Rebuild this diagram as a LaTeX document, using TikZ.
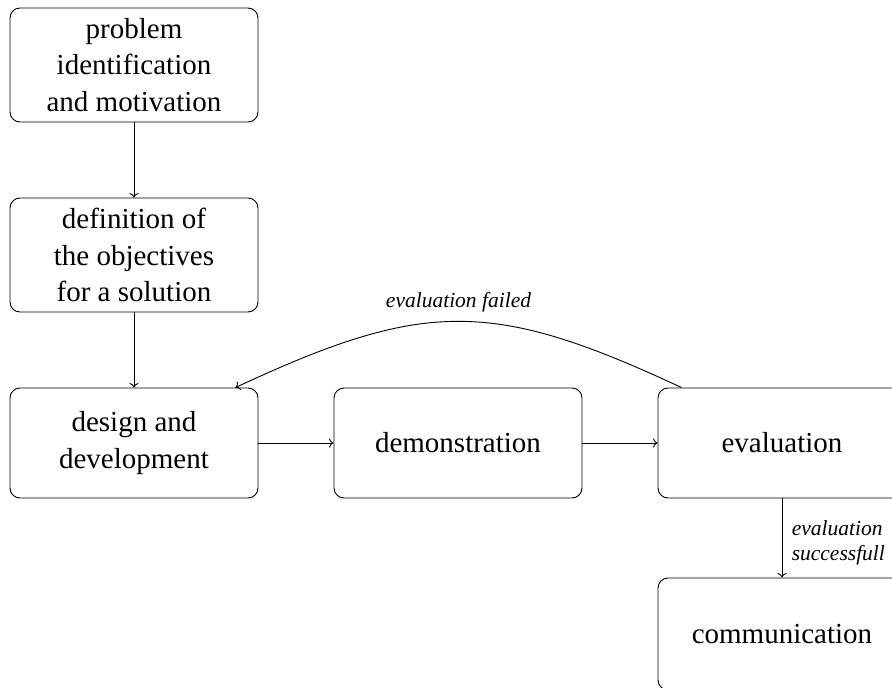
\documentclass[tikz,border=0pt]{standalone}
\usepackage{fontspec}
\setmainfont{Liberation Serif}
\usetikzlibrary{arrows.meta}
\begin{document}
\begin{tikzpicture}[x=1pt,y=1pt,
  stage/.style={draw, line width=0.9pt, rounded corners=10pt, minimum width=248pt, align=center, font=\fontsize{29}{36.5}\selectfont, inner sep=0pt},
  tall/.style={minimum height=114pt},
  mid/.style={minimum height=110pt},
  conn/.style={-{To[length=4.5pt,width=9pt]}, line width=0.9pt},
  lbl/.style={font=\fontsize{21.5}{25}\selectfont\itshape, align=left}
]
\clip (0,0) rectangle (892,-688);
\node[stage,tall] (b1) at (134,-65) {problem\\identification\\and motivation};
\node[stage,tall] (b2) at (134,-255) {definition of\\the objectives\\for a solution};
\node[stage,mid] (b3) at (134,-443) {design and\\development};
\node[stage,mid] (b4) at (458,-443) {demonstration};
\node[stage,mid] (b5) at (782,-443) {evaluation};
\node[stage,minimum height=112pt] (b6) at (782,-634) {communication};
\draw[conn] (b1) -- (b2);
\draw[conn] (b2) -- (b3);
\draw[conn] (b3) -- (b4);
\draw[conn] (b4) -- (b5);
\draw[conn] (b5) -- node[lbl, right, xshift=6pt, yshift=-5pt] {evaluation\\successfull} (b6);
\draw[conn] ([xshift=24pt]b5.north west) to[out=155, in=25, looseness=1.2] node[lbl, above, yshift=6pt] {evaluation failed} ([xshift=-23pt]b3.north east);
\end{tikzpicture}
\end{document}
